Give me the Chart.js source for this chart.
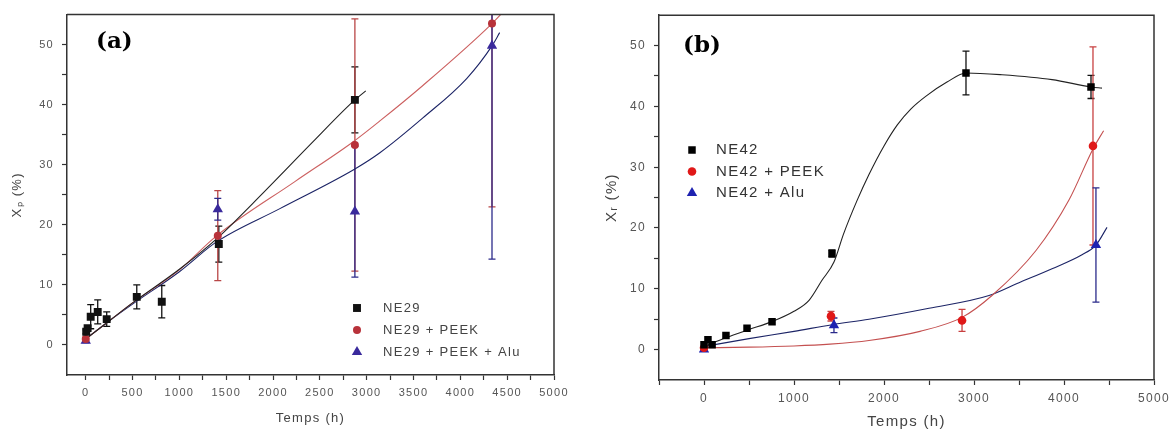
<!DOCTYPE html>
<html>
<head>
<meta charset="utf-8">
<script src="https://cdn.jsdelivr.net/npm/chart.js"></script>
<style>
  body { margin: 0; background: #fff; width: 1174px; height: 433px; overflow: hidden; position: relative; }
  canvas { position: absolute; top: 0; }
  #chartA { left: 0; }
  #chartB { left: 590px; }
  .tag { position: absolute; font: bold 23px "DejaVu Serif", serif; color: #000; line-height: 1; }
</style>
</head>
<body>
<canvas id="chartA" width="585" height="433"></canvas>
<canvas id="chartB" width="584" height="433"></canvas>
<div class="tag" style="left:96px;top:28px">(a)</div>
<div class="tag" style="left:683px;top:32px">(b)</div>
<script>
// ---------- panel (a) : X_p vs time ----------
const tNE29 = [5, 20, 53, 128, 224, 545, 812, 1421, 2874];
const xpNE29 = [2.2, 2.8, 4.7, 5.5, 4.3, 8.0, 7.2, 16.8, 40.8];
const errNE29 = [0.3, 0.4, 2.0, 2.0, 1.2, 2.0, 2.7, 3.0, 5.5];

const tPEEK_A = [0, 1410, 2874, 4338];
const xpPEEK = [1.0, 18.2, 33.3, 53.5];
const errPEEK_A = [0.3, 7.5, 21, 30.5];

const tALU_A = [0, 1410, 2874, 4338];
const xpALU = [0.7, 22.6, 22.2, 49.8];
const errALU_A = [0.3, 1.8, 10.9, 35.5];

// fitted curves
const fitA_t1 = [0, 250, 500, 1000, 1400, 1900, 2425, 2853, 2990];
const fitA_y1 = [1.0, 4.0, 7.0, 12.6, 17.7, 25.4, 33.8, 40.5, 42.3];
const fitA_t2 = [0, 250, 500, 1000, 1400, 2233, 2853, 3141, 3600, 4338, 4460];
const fitA_y2 = [1.0, 4.0, 7.0, 12.5, 18.2, 27.2, 33.8, 37.3, 43.2, 53.5, 55.5];
const fitA_t3 = [0, 250, 500, 1000, 1400, 2073, 2874, 3141, 3600, 4070, 4338, 4420];
const fitA_y3 = [1.0, 4.0, 6.8, 12.2, 17.2, 22.7, 29.3, 32.0, 37.8, 44.4, 49.8, 52.0];

const xMajorA = [0, 500, 1000, 1500, 2000, 2500, 3000, 3500, 4000, 4500, 5000];
const xMinorA = [250, 750, 1250, 1750, 2250, 2750, 3250, 3750, 4250, 4750];

// ---------- panel (b) : X_r vs time ----------
const tNE42 = [0, 44, 90, 244, 478, 756, 1422, 2911, 4300];
const xrNE42 = [0.8, 1.6, 0.8, 2.3, 3.5, 4.6, 15.8, 45.5, 43.2];
const errNE42 = [0, 0, 0, 0, 0, 0, 0.6, 3.6, 1.9];

const tPEEK_B = [0, 1411, 2867, 4322];
const xrPEEK = [0.3, 5.5, 4.8, 33.5];
const errPEEK_B = [0, 0.8, 1.8, 16.3];

const tALU_B = [0, 1444, 4355];
const xrALU = [0.0, 4.0, 17.2];
const errALU_B = [0, 1.2, 9.4];

const fitB_t1 = [0, 250, 500, 756, 1000, 1167, 1311, 1444, 1550, 1700, 1833, 2000, 2150, 2300, 2467, 2700, 2911, 3311, 3867, 4300, 4422];
const fitB_y1 = [0.5, 2.0, 3.3, 4.6, 6.3, 8.1, 11.4, 14.4, 19.0, 24.5, 28.8, 33.5, 37.0, 39.6, 41.7, 44.0, 45.5, 45.2, 44.4, 43.2, 43.0];
const fitB_t2 = [0, 500, 1000, 1400, 1833, 2400, 2867, 3200, 3689, 4055, 4322, 4440];
const fitB_y2 = [0.3, 0.4, 0.6, 0.9, 1.5, 3.0, 5.3, 8.9, 16.3, 24.6, 33.0, 36.0];
const fitB_t3 = [0, 500, 1000, 1422, 1833, 2500, 3167, 3500, 3867, 4200, 4355, 4478];
const fitB_y3 = [0.5, 1.8, 3.0, 4.1, 5.0, 6.8, 8.9, 11.0, 13.3, 15.6, 17.2, 20.1];

const xMajorB = [0, 1000, 2000, 3000, 4000, 5000];
const xMinorB = [-500, 500, 1500, 2500, 3500, 4500];

const yMajor = [0, 10, 20, 30, 40, 50];
const yMinor = [5, 15, 25, 35, 45];

const pts = (xs, ys) => xs.map((x, i) => ({x: x, y: ys[i]}));

// error bars, drawn under the markers
const errorBars = {
  id: 'errorBars',
  beforeDatasetsDraw(chart) {
    const {ctx, chartArea: a, scales: {x, y}} = chart;
    ctx.save();
    ctx.beginPath();
    ctx.rect(a.left, a.top, a.right - a.left, a.bottom - a.top);
    ctx.clip();
    chart.data.datasets.forEach(ds => {
      if (!ds.errors) return;
      ctx.strokeStyle = ds.errColor;
      ctx.lineWidth = 1.3;
      ds.data.forEach((p, i) => {
        const e = ds.errors[i];
        if (!e) return;
        const px = x.getPixelForValue(p.x);
        const top = y.getPixelForValue(p.y + e), bot = y.getPixelForValue(p.y - e);
        ctx.beginPath();
        ctx.moveTo(px, top); ctx.lineTo(px, bot);
        ctx.moveTo(px - 3.5, top); ctx.lineTo(px + 3.5, top);
        ctx.moveTo(px - 3.5, bot); ctx.lineTo(px + 3.5, bot);
        ctx.stroke();
      });
    });
    ctx.restore();
  }
};

// top and right sides of the box
const frame = {
  id: 'frame',
  beforeDraw(chart) { chart.ctx.letterSpacing = '1.3px'; },
  afterDraw(chart) {
    const {ctx, chartArea: a} = chart;
    ctx.save();
    ctx.strokeStyle = '#333';
    ctx.lineWidth = 1.5;
    ctx.beginPath();
    ctx.moveTo(a.left, a.top); ctx.lineTo(a.right, a.top); ctx.lineTo(a.right, a.bottom);
    ctx.stroke();
    ctx.restore();
  }
};

function marker(ctx, style, x, y, r) {
  ctx.beginPath();
  if (style === 'rect') {
    const s = r * Math.SQRT1_2;
    ctx.rect(x - s, y - s, 2 * s, 2 * s);
  } else if (style === 'triangle') {
    for (let k = 0; k < 3; k++) {
      const ang = k * 2 * Math.PI / 3;
      const px = x + Math.sin(ang) * r, py = y - Math.cos(ang) * r;
      if (k === 0) ctx.moveTo(px, py); else ctx.lineTo(px, py);
    }
    ctx.closePath();
  } else {
    ctx.arc(x, y, r, 0, 2 * Math.PI);
  }
  ctx.fill();
}

// legend inside the plot
const inLegend = {
  id: 'inLegend',
  afterDraw(chart, args, o) {
    const ctx = chart.ctx;
    ctx.save();
    ctx.textBaseline = 'middle';
    ctx.font = o.font;
    ctx.letterSpacing = o.spacing;
    chart.data.datasets.filter(d => d.inLegend).forEach((d, i) => {
      const y = o.y + i * o.dy;
      ctx.fillStyle = d.backgroundColor;
      marker(ctx, d.pointStyle, o.x, y, d.pointRadius);
      ctx.fillStyle = o.color;
      ctx.fillText(d.label, o.textX, y);
    });
    ctx.restore();
  }
};

function pointSet(label, data, errors, style, r, color, errColor) {
  return {label: label, data: data, errors: errors, errColor: errColor, inLegend: true,
    showLine: false, pointStyle: style, pointRadius: r, pointHoverRadius: r,
    backgroundColor: color, borderColor: color, borderWidth: 0};
}
function fitSet(data, color) {
  return {label: '', data: data, showLine: true, pointRadius: 0, pointHoverRadius: 0,
    borderColor: color, borderWidth: 1.1, cubicInterpolationMode: 'monotone', fill: false};
}

function axes(o) {
  const font = {family: 'Liberation Sans, Arial, sans-serif', size: o.tickSize};
  const grid = {display: true, drawOnChartArea: false, drawTicks: true, tickLength: 5, tickColor: '#333', tickWidth: 1.2};
  const border = {display: true, color: '#333', width: 1.5};
  return {
    x: {
      type: 'linear', min: o.xmin, max: o.xmax,
      afterBuildTicks: s => { s.ticks = o.xMajor.concat(o.xMinor).sort((a, b) => a - b).map(v => ({value: v})); },
      afterFit: s => { s.height = o.xh; },
      ticks: {autoSkip: false, maxRotation: 0, padding: o.xpad, color: '#555', font: font,
        callback: v => o.xMajor.includes(v) ? String(v) : ''},
      grid: grid, border: border,
      title: {display: true, text: 'Temps (h)', color: '#444',
        font: {family: 'Liberation Sans, Arial, sans-serif', size: o.titleSize},
        padding: {top: 0, bottom: o.xTitlePad}}
    },
    y: {
      type: 'linear', min: -5, max: 55,
      afterBuildTicks: s => { s.ticks = yMajor.concat(yMinor).sort((a, b) => a - b).map(v => ({value: v})); },
      afterFit: s => { s.width = o.yw; },
      ticks: {autoSkip: false, padding: o.ypad, color: '#555', font: font,
        callback: v => yMajor.includes(v) ? String(v) : ''},
      grid: grid, border: border,
      title: {display: true, text: o.yTitle, color: '#444',
        font: {family: 'Liberation Sans, Arial, sans-serif', size: o.titleSize},
        padding: {top: o.yTitlePad, bottom: 0}}
    }
  };
}

const common = {
  responsive: false,
  animation: false,
  events: [],
  plugins: {legend: {display: false}, tooltip: {enabled: false}}
};

new Chart(document.getElementById('chartA'), {
  type: 'scatter',
  data: {
    datasets: [
      pointSet('NE29', pts(tNE29, xpNE29), errNE29, 'rect', 5.6, '#111', '#111'),
      pointSet('NE29 + PEEK', pts(tPEEK_A, xpPEEK), errPEEK_A, 'circle', 4, '#b8323a', '#b84646'),
      pointSet('NE29 + PEEK + Alu', pts(tALU_A, xpALU), errALU_A, 'triangle', 6, '#3a2a9c', '#2c2a8a'),
      fitSet(pts(fitA_t1, fitA_y1), '#222'),
      fitSet(pts(fitA_t2, fitA_y2), '#cc6060'),
      fitSet(pts(fitA_t3, fitA_y3), '#1c2466')
    ]
  },
  options: Object.assign({}, common, {
    layout: {padding: {top: 14, right: 31, left: 0, bottom: 0}},
    scales: axes({xmin: -200, xmax: 5000, xMajor: xMajorA, xMinor: xMinorA, xh: 58, yw: 67,
      tickSize: 11, titleSize: 13, xpad: 6, ypad: 8, xTitlePad: 7, yTitlePad: 10, yTitle: 'X\u209A (%)'}),
    plugins: Object.assign({}, common.plugins, {
      inLegend: {x: 357, y: 308, dy: 22, textX: 383, font: '13px "Liberation Sans", Arial, sans-serif', color: '#444', spacing: '1.3px'}
    })
  }),
  plugins: [errorBars, frame, inLegend]
});

new Chart(document.getElementById('chartB'), {
  type: 'scatter',
  data: {
    datasets: [
      pointSet('NE42', pts(tNE42, xrNE42), errNE42, 'rect', 5.3, '#000', '#111'),
      pointSet('NE42 + PEEK', pts(tPEEK_B, xrPEEK), errPEEK_B, 'circle', 4.3, '#e01818', '#c84040'),
      pointSet('NE42 + Alu', pts(tALU_B, xrALU), errALU_B, 'triangle', 6, '#1e22b0', '#2a2a8a'),
      fitSet(pts(fitB_t1, fitB_y1), '#222'),
      fitSet(pts(fitB_t2, fitB_y2), '#c45050'),
      fitSet(pts(fitB_t3, fitB_y3), '#1c2466')
    ]
  },
  options: Object.assign({}, common, {
    layout: {padding: {top: 15, right: 20, left: 0, bottom: 0}},
    scales: axes({xmin: -500, xmax: 5000, xMajor: xMajorB, xMinor: xMinorB, xh: 53, yw: 69,
      tickSize: 12, titleSize: 15, xpad: 6, ypad: 8, xTitlePad: 2, yTitlePad: 13, yTitle: 'X\u1D63 (%)'}),
    plugins: Object.assign({}, common.plugins, {
      inLegend: {x: 102, y: 150, dy: 21.5, textX: 126, font: '15px "Liberation Sans", Arial, sans-serif', color: '#333', spacing: '1.3px'}
    })
  }),
  plugins: [errorBars, frame, inLegend]
});
</script>
</body>
</html>
